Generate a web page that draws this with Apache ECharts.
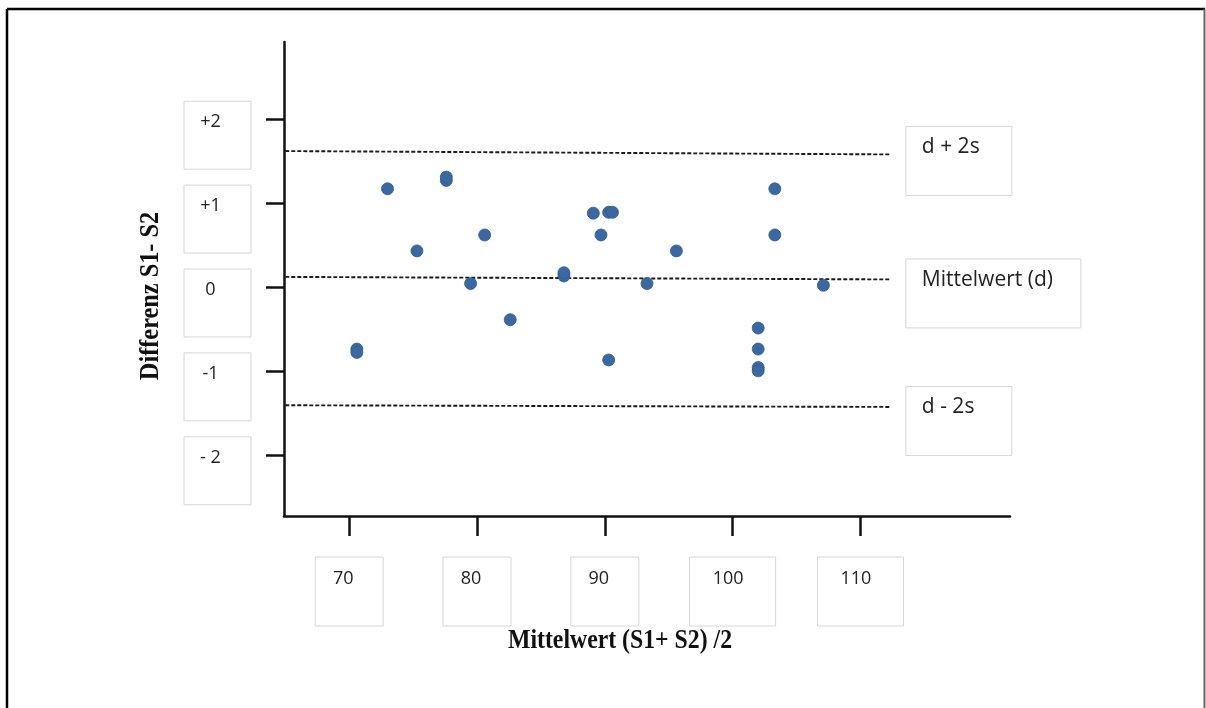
<!DOCTYPE html>
<html>
<head>
<meta charset="utf-8">
<script src="https://cdn.jsdelivr.net/npm/echarts@6/dist/echarts.min.js"></script>
<style>
html,body{margin:0;padding:0;background:#fff;}
#c{width:1206px;height:708px;}
</style>
</head>
<body>
<div id="c"></div>
<script>
// ---- data ----
const xMean = [70.6, 70.6, 73.0, 75.3, 77.6, 77.6, 79.5, 80.6, 82.6, 86.8, 86.8, 89.1, 89.7, 90.3, 90.6, 90.3, 93.3, 95.6, 102.0, 102.0, 102.0, 102.0, 103.3, 103.3, 107.1];
const yDiff = [-0.74, -0.78, 1.17, 0.43, 1.27, 1.31, 0.04, 0.62, -0.39, 0.13, 0.17, 0.88, 0.62, 0.89, 0.89, -0.87, 0.04, 0.43, -0.49, -0.74, -0.96, -1.0, 1.17, 0.62, 0.02];

const xTickValues = [70, 80, 90, 100, 110];
const xTickLabels = ['70', '80', '90', '100', '110'];
const yTickValues = [2, 1, 0, -1, -2];
const yTickLabels = ['+2', '+1', '0', '-1', '- 2'];

const limitX = [65.0, 112.3];
const upperY = [1.62, 1.58];
const meanY = [0.12, 0.09];
const lowerY = [-1.41, -1.43];
const limitNames = ['d + 2s', 'Mittelwert (d)', 'd - 2s'];

const xTitle = 'Mittelwert (S1+ S2) /2';
const yTitle = 'Differenz S1- S2';

// ---- chart ----
const labelFont = "'Open Sans', sans-serif";
const boxBorder = '#d6d6d6';
const chart = echarts.init(document.getElementById('c'), null, {renderer: 'canvas'});

function idx(arr, v) { return arr.findIndex(a => Math.abs(a - v) < 1e-9); }

function limitSeries(ys, name, spacer, boxW) {
  return {
    type: 'line',
    data: limitX.map((x, i) => [x, ys[i]]),
    symbol: 'none',
    silent: true,
    z: 1,
    lineStyle: {type: [4, 2], width: 1.9, color: '#1a1a1a'},
    endLabel: {
      show: true,
      distance: 16,
      formatter: () => '{sp| }\n{box|' + name + '}',
      rich: {
        sp: {fontSize: 8, lineHeight: spacer},
        box: {
          fontFamily: labelFont, fontSize: 21, color: '#222',
          width: boxW - 16, height: 20, padding: [11, 0, 38, 16],
          align: 'left', borderColor: boxBorder, borderWidth: 1
        }
      }
    }
  };
}

const option = {
  animation: false,
  backgroundColor: '#fff',
  grid: {left: 284, right: 196, top: 42, bottom: 192, outerBoundsMode: 'none', containLabel: false},
  xAxis: {
    type: 'value', min: 64.9, max: 121.7,
    axisLine: {show: true, onZero: false, lineStyle: {color: '#111', width: 2.5}},
    axisTick: {show: true, customValues: xTickValues, length: 20, lineStyle: {color: '#111', width: 2.5}},
    splitLine: {show: false},
    axisLabel: {
      customValues: xTickValues, margin: 41, showMinLabel: true, showMaxLabel: true, hideOverlap: false,
      formatter: v => {
        const s = xTickLabels[idx(xTickValues, v)];
        return '{' + (s.length > 2 ? 'b3' : 'b2') + '|' + s + '}';
      },
      rich: {
        b2: {fontFamily: labelFont, fontSize: 18, color: '#222', width: 48, height: 20,
             padding: [12, 16, 37, 4], align: 'center', borderColor: boxBorder, borderWidth: 1},
        b3: {fontFamily: labelFont, fontSize: 18, color: '#222', width: 69, height: 20,
             padding: [12, 13, 37, 4], align: 'center', borderColor: boxBorder, borderWidth: 1}
      }
    }
  },
  yAxis: {
    type: 'value', min: -2.73, max: 2.92,
    axisLine: {show: true, onZero: false, lineStyle: {color: '#111', width: 2.5}},
    axisTick: {show: true, customValues: yTickValues, length: 18, lineStyle: {color: '#111', width: 2.5}},
    splitLine: {show: false},
    axisLabel: {
      customValues: yTickValues, margin: 33, showMinLabel: true, showMaxLabel: true, hideOverlap: false,
      formatter: v => '{box|' + yTickLabels[idx(yTickValues, v)] + '}',
      rich: {
        box: {fontFamily: labelFont, fontSize: 18, color: '#222', width: 39, height: 20,
              lineHeight: 36, verticalAlign: 'top',
              padding: [11, 21, 37, 7], align: 'center', borderColor: boxBorder, borderWidth: 1}
      }
    }
  },
  series: [
    limitSeries(upperY, limitNames[0], 13, 106),
    limitSeries(meanY, limitNames[1], 28, 175),
    limitSeries(lowerY, limitNames[2], 28, 106),
    {
      type: 'scatter',
      data: xMean.map((x, i) => [x, yDiff[i]]),
      symbol: 'circle',
      symbolSize: 12,
      z: 3,
      itemStyle: {color: '#3a68a2', opacity: 1, borderColor: '#2f5a8e', borderWidth: 0.8}
    }
  ],
  graphic: [
    {type: 'line', silent: true, shape: {x1: 7, y1: 9, x2: 1205, y2: 9}, style: {stroke: '#000', lineWidth: 2.5}},
    {type: 'line', silent: true, shape: {x1: 7, y1: 9, x2: 7, y2: 708}, style: {stroke: '#000', lineWidth: 2.5}},
    {type: 'line', silent: true, shape: {x1: 1204.5, y1: 9, x2: 1204.5, y2: 708}, style: {stroke: '#666', lineWidth: 2}},
    {type: 'text', silent: true, x: 620, y: 641, scaleX: 0.88,
     style: {text: xTitle, font: "bold 27px 'Liberation Serif', serif", fill: '#111', align: 'center', verticalAlign: 'middle'}},
    {type: 'text', silent: true, x: 151, y: 296, rotation: Math.PI / 2, scaleX: 0.9,
     style: {text: yTitle, font: "bold 27px 'Liberation Serif', serif", fill: '#111', align: 'center', verticalAlign: 'middle'}}
  ]
};
chart.setOption(option);
</script>
</body>
</html>
